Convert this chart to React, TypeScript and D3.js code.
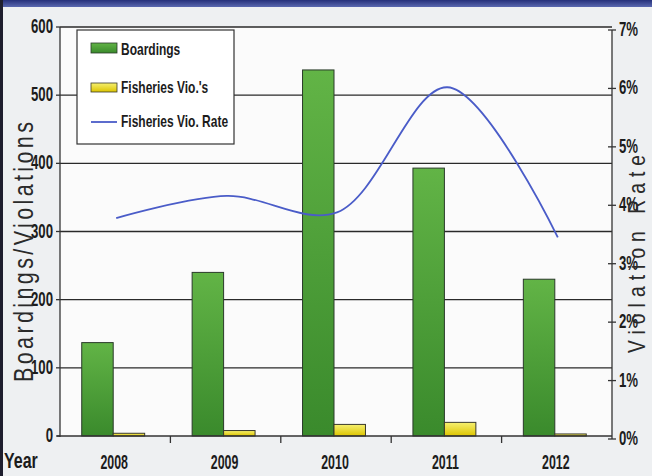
import React from "react";
import * as d3 from "d3";

const years = ["2008", "2009", "2010", "2011", "2012"];
const boardings = [137, 240, 537, 393, 230];
const violations = [4, 8, 17, 20, 3];
const rates = [3.78, 4.16, 3.88, 6.02, 3.45];
const leftTicks = [0, 100, 200, 300, 400, 500, 600];
const rightTicks = [0, 1, 2, 3, 4, 5, 6, 7];

const W = 652;
const H = 476;
const FONT = "'Liberation Sans', Arial, sans-serif";
const SX = 0.8;

export default function App() {
  const x = d3.scaleBand<string>().domain(years).range([60, 612]).padding(0);
  const yL = d3.scaleLinear().domain([0, 600]).range([436, 27]);
  const yR = d3.scaleLinear().domain([0, 7]).range([439, 30]);
  const bw = x.bandwidth();
  const barW = bw * 0.285;
  const groupStart = (c: string) => (x(c) as number) + bw / 2 - barW - 2;
  const cx = (c: string) => (x(c) as number) + bw / 2;

  const line = d3
    .line<number>()
    .x((_, i) => cx(years[i]) + 1)
    .y((d) => yR(d))
    .curve(d3.curveCatmullRom.alpha(0.5));

  const tickText = (props: any, txt: string, size = 15, sy = 1.22) => {
    const { x: tx, y: ty, anchor } = props;
    return (
      <text
        transform={`translate(${tx},${ty}) scale(${SX},${sy})`}
        textAnchor={anchor}
        fontFamily={FONT}
        fontWeight="bold"
        fontSize={size}
        fill="#1c1c1c"
      >
        {txt}
      </text>
    );
  };

  return (
    <div style={{ position: "fixed", left: 0, top: 0 }}>
      <svg width={W} height={H} style={{ display: "block" }}>
        <defs>
          <linearGradient id="gGreen" x1="0" y1="0" x2="0" y2="1">
            <stop offset="0%" stopColor="#62b446" />
            <stop offset="100%" stopColor="#3a8a2c" />
          </linearGradient>
          <linearGradient id="gYellow" x1="0" y1="0" x2="0" y2="1">
            <stop offset="0%" stopColor="#f6f070" />
            <stop offset="100%" stopColor="#dcc400" />
          </linearGradient>
          <linearGradient id="gBand" x1="0" y1="0" x2="0" y2="1">
            <stop offset="0%" stopColor="#26307a" />
            <stop offset="100%" stopColor="#5a68b0" />
          </linearGradient>
        </defs>
        <rect x={0} y={0} width={W} height={H} fill="#eef0f2" />
        <rect x={0} y={0} width={W} height={7} fill="url(#gBand)" />
        <rect x={0} y={0} width={3} height={H} fill="#1e1e2e" />
        <rect x={60} y={27} width={552} height={409} fill="#fbfbfb" />

        {/* gridlines */}
        {leftTicks.slice(1).map((t) => (
          <line key={"g" + t} x1={60} x2={612} y1={yL(t)} y2={yL(t)} stroke="#2a2a2a" strokeWidth={1.3} />
        ))}

        {/* bars */}
        {years.map((c, i) => (
          <g key={"b" + c}>
            <rect
              x={groupStart(c)}
              y={yL(boardings[i])}
              width={barW}
              height={yL(0) - yL(boardings[i])}
              fill="url(#gGreen)"
              stroke="#2a3a2a"
              strokeWidth={1}
            />
            <rect
              x={groupStart(c) + barW}
              y={yL(violations[i])}
              width={barW}
              height={yL(0) - yL(violations[i])}
              fill="url(#gYellow)"
              stroke="#3a3a2a"
              strokeWidth={1}
            />
          </g>
        ))}

        {/* rate line */}
        <path d={line(rates) || ""} fill="none" stroke="#4a5cc8" strokeWidth={1.8} />

        {/* axes */}
        <line x1={60} x2={60} y1={27} y2={437} stroke="#333" strokeWidth={1.3} />
        <line x1={612} x2={612} y1={30} y2={439} stroke="#333" strokeWidth={1.3} />
        <line x1={57} x2={612} y1={436} y2={436} stroke="#333" strokeWidth={1.5} />
        {leftTicks.map((t) => (
          <g key={"lt" + t}>
            <line x1={56} x2={60} y1={yL(t)} y2={yL(t)} stroke="#333" strokeWidth={1.3} />
            {tickText({ x: 53, y: yL(t) + 6, anchor: "end" }, String(t), 16.5)}
          </g>
        ))}
        {rightTicks.map((t) => (
          <g key={"rt" + t}>
            <line x1={608} x2={616} y1={yR(t)} y2={yR(t)} stroke="#333" strokeWidth={1.3} />
            {tickText({ x: 619, y: yR(t) + 6, anchor: "start" }, t + "%", 16.5)}
          </g>
        ))}
        {years.slice(1).map((c) => (
          <line key={"xt" + c} x1={x(c) as number} x2={x(c) as number} y1={436} y2={443} stroke="#333" strokeWidth={1.3} />
        ))}
        {years.map((c) => (
          <g key={"xl" + c}>{tickText({ x: cx(c) - 1, y: 469, anchor: "middle" }, c, 15.5, 1.25)}</g>
        ))}
        {tickText({ x: 4, y: 468, anchor: "start" }, "Year", 20, 1.1)}

        {/* axis titles */}
        <text
          transform={`translate(33,252) rotate(-90) scale(${SX},1)`}
          textAnchor="middle"
          fontFamily={FONT}
          fontSize={27}
          fill="#2a2a2a"
          textLength={260 / SX}
          lengthAdjust="spacing"
        >
          Boardings/Violations
        </text>
        <text
          transform={`translate(645,254) rotate(-90) scale(${SX},1)`}
          textAnchor="middle"
          fontFamily={FONT}
          fontSize={24}
          fill="#2a2a2a"
          textLength={198 / SX}
          lengthAdjust="spacing"
        >
          Violation Rate
        </text>

        {/* legend */}
        <rect x={77} y={30} width={157} height={114} fill="#ffffff" stroke="#333" strokeWidth={1.2} />
        <rect x={91} y={43} width={26} height={10} fill="url(#gGreen)" stroke="#2a3a2a" strokeWidth={0.8} />
        {tickText({ x: 121, y: 55, anchor: "start" }, "Boardings", 15, 1.15)}
        <rect x={91} y={83} width={26} height={9} fill="url(#gYellow)" stroke="#3a3a2a" strokeWidth={0.8} />
        {tickText({ x: 121, y: 93, anchor: "start" }, "Fisheries Vio.'s", 15, 1.15)}
        <line x1={91} x2={117} y1={122} y2={122} stroke="#4a5cc8" strokeWidth={1.8} />
        {tickText({ x: 121, y: 127, anchor: "start" }, "Fisheries Vio. Rate", 15, 1.15)}
      </svg>
    </div>
  );
}
